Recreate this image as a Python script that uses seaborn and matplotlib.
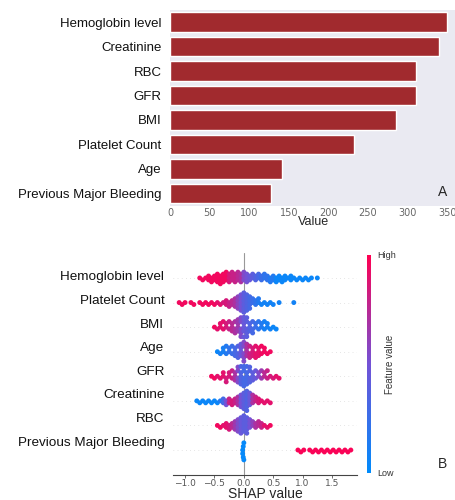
import warnings
import numpy as np
import pandas as pd
import seaborn as sns
import matplotlib.pyplot as plt
from matplotlib.colors import LinearSegmentedColormap, Normalize
from matplotlib.cm import ScalarMappable
from matplotlib.transforms import ScaledTranslation

warnings.filterwarnings("ignore")

# ---- panel A: feature importance
features_a = ["Hemoglobin level", "Creatinine", "RBC", "GFR", "BMI",
              "Platelet Count", "Age", "Previous Major Bleeding"]
importance = [350, 340, 310, 310, 285, 232, 142, 128]

# ---- panel B: SHAP beeswarm, read off as bins
# (first bin centre, bin step, points per bin, feature value per bin 0=low 1=high)
features_b = ["Hemoglobin level", "Platelet Count", "BMI", "Age", "GFR",
              "Creatinine", "RBC", "Previous Major Bleeding"]

hb_counts = [1, 1, 1, 2, 2, 2, 3, 3, 3, 3, 3, 3, 3, 3, 3, 3, 3, 2, 2, 2, 2,
             2, 2, 2, 2, 2, 2, 2, 2, 2, 1, 2, 1, 1, 1, 1, 1, 1, 1, 0, 1]
hb_fval = [0.95, 0.95, 0.95, 0.95, 0.95, 0.95, 0.95, 0.95, 0.95, 0.95,
           0.85, 0.8, 0.8, 0.75, 0.7, 0.55, 0.5, 0.45, 0.4, 0.35,
           0.3, 0.25, 0.2, 0.2, 0.15, 0.15, 0.05, 0.05, 0.05, 0.05,
           0.05, 0.05, 0.05, 0.05, 0.05, 0.05, 0.05, 0.05, 0.05, 0.05, 0.05]

plt_counts = [1, 1, 1, 0, 1, 1, 0, 1, 1, 1, 1, 1, 1, 1, 1, 1, 2, 2, 2, 3,
              4, 5, 6, 5, 4, 2, 2, 2, 1, 1, 1, 1, 1, 0, 1, 0, 0, 0, 0, 1]
plt_fval = [0.95, 0.95, 0.95, 0.95, 0.95, 0.95, 0.95, 0.95, 0.95, 0.95,
            0.95, 0.95, 0.95, 0.9, 0.9, 0.85, 0.85, 0.8, 0.75, 0.7,
            0.6, 0.5, 0.4, 0.35, 0.3, 0.25, 0.2, 0.15, 0.08, 0.08,
            0.08, 0.08, 0.08, 0.08, 0.08, 0.08, 0.08, 0.08, 0.08, 0.08]

bmi_counts = [0, 1, 1, 2, 2, 2, 2, 3, 3, 4, 5, 6, 5, 3, 3, 2, 2, 2, 2, 2, 1, 1, 1, 0]
bmi_fval = [0.95, 0.95, 0.9, 0.9, 0.9, 0.85, 0.8, 0.75, 0.7, 0.65, 0.55, 0.45,
            0.4, 0.35, 0.3, 0.25, 0.2, 0.15, 0.1, 0.1, 0.08, 0.05, 0.05, 0.05]

age_counts = [0, 1, 1, 2, 2, 2, 2, 3, 3, 4, 5, 4, 3, 3, 3, 3, 2, 2, 1, 1]
age_fval = [0.05, 0.05, 0.1, 0.1, 0.15, 0.2, 0.25, 0.3, 0.35, 0.45,
            0.55, 0.7, 0.8, 0.85, 0.9, 0.9, 0.95, 0.95, 0.95, 0.95]

gfr_counts = [1, 1, 1, 1, 2, 2, 2, 2, 3, 4, 5, 6, 5, 4, 3, 2, 2, 2, 2, 2, 1, 1, 1, 1]
gfr_fval = [0.95, 0.95, 0.9, 0.9, 0.9, 0.85, 0.85, 0.8, 0.7, 0.55, 0.35, 0.3,
            0.3, 0.35, 0.4, 0.45, 0.55, 0.65, 0.75, 0.8, 0.85, 0.85, 0.9, 0.9]

cre_counts = [1, 1, 1, 1, 1, 1, 1, 1, 1, 2, 2, 2, 2, 2, 3, 4, 5, 6, 4, 3, 2, 2, 1, 1, 1, 1]
cre_fval = [0.05, 0.05, 0.05, 0.05, 0.05, 0.05, 0.05, 0.05, 0.15, 0.3, 0.5, 0.8, 0.85,
            0.8, 0.7, 0.5, 0.4, 0.35, 0.45, 0.7, 0.8, 0.85, 0.9, 0.9, 0.9, 0.9]

rbc_counts = [1, 1, 1, 2, 2, 2, 3, 4, 5, 5, 5, 3, 2, 2, 2, 2, 1, 1, 1]
rbc_fval = [0.95, 0.95, 0.9, 0.9, 0.85, 0.75, 0.65, 0.55, 0.45, 0.4,
            0.4, 0.5, 0.6, 0.7, 0.75, 0.8, 0.9, 0.9, 0.95]

pmb_low_counts = [2, 2, 2]
pmb_low_fval = [0.02, 0.02, 0.02]
pmb_high_counts = [1, 1, 1, 0, 1, 1, 1, 1, 1, 1, 1, 1, 1, 1, 1, 1, 1, 1, 1]
pmb_high_fval = [0.98] * 19

segments = {
    "Hemoglobin level": [(-0.75, 0.05, hb_counts, hb_fval)],
    "Platelet Count": [(-1.10, 0.05, plt_counts, plt_fval)],
    "BMI": [(-0.55, 0.05, bmi_counts, bmi_fval)],
    "Age": [(-0.50, 0.05, age_counts, age_fval)],
    "GFR": [(-0.55, 0.05, gfr_counts, gfr_fval)],
    "Creatinine": [(-0.80, 0.05, cre_counts, cre_fval)],
    "RBC": [(-0.45, 0.05, rbc_counts, rbc_fval)],
    "Previous Major Bleeding": [(-0.02, 0.01, pmb_low_counts, pmb_low_fval),
                                (0.92, 0.05, pmb_high_counts, pmb_high_fval)],
}

rows = []
for feat in features_b:
    for start, step, counts, fvals in segments[feat]:
        for i, (c, f) in enumerate(zip(counts, fvals)):
            rows += [(feat, round(start + i * step, 3), f)] * c
shap_df = pd.DataFrame(rows, columns=["feature", "shap", "fvalue"])

sns.set_style("dark")
plt.rcParams["font.family"] = ["Liberation Sans", "DejaVu Sans"]

fig = plt.figure(figsize=(4.56, 5.0), dpi=100)

# ---------------- panel A
axA = fig.add_axes([170 / 456, 1 - 205.5 / 500, 286 / 456, 195.5 / 500])
sns.barplot(x=importance, y=features_a, color="#a12a2e", saturation=1, ax=axA)
axA.set_xlim(0, 361)
axA.set_xticks([0, 50, 100, 150, 200, 250, 300, 350])
axA.set_xlabel("Value", fontsize=9, labelpad=-1)
axA.tick_params(axis="y", length=0, labelsize=9.5, pad=6, colors="#111111")
axA.tick_params(axis="x", length=0, labelsize=7, pad=1.5, colors="#666666")
for lab in axA.get_xticklabels():
    lab.set_fontfamily("DejaVu Sans")
for s in axA.spines.values():
    s.set_visible(False)
fig.text(443 / 456, 1 - 192 / 500, "A", fontsize=10, ha="center", va="center")

# ---------------- panel B
shap_cmap = LinearSegmentedColormap.from_list("shap", ["#008bfb", "#7352d6", "#ff0052"])

axB = fig.add_axes([173.3 / 456, 1 - 474.6 / 500, 183.4 / 456, 221.2 / 500])
axB.set_facecolor("white")
for i in range(len(features_b)):
    axB.axhline(i, color="#cccccc", lw=0.5, dashes=(1, 5), zorder=0)
axB.axvline(0, color="#999999", lw=0.8, zorder=0)
sns.swarmplot(data=shap_df, x="shap", y="feature", hue="fvalue", order=features_b,
              palette=shap_cmap, hue_norm=(0, 1), size=2.5, linewidth=0,
              legend=False, ax=axB, zorder=2)
axB.set_xlim(-1.2, 1.92)
axB.set_ylim(8, -1)
axB.set_xticks([-1.0, -0.5, 0.0, 0.5, 1.0, 1.5])
axB.set_xlabel("SHAP value", fontsize=10, labelpad=-1)
axB.set_ylabel("")
axB.grid(False)
for side in ["top", "left", "right"]:
    axB.spines[side].set_visible(False)
axB.spines["bottom"].set_color("#444444")
axB.spines["bottom"].set_linewidth(0.8)
axB.tick_params(axis="y", length=0, labelsize=9.7, pad=6.5, colors="#111111")
axB.tick_params(axis="x", bottom=True, length=2, width=0.6, labelsize=6.5,
                pad=1.5, colors="#555555")
for lab in axB.get_xticklabels():
    lab.set_fontfamily("DejaVu Sans")
# labels in the reference sit slightly above their rows, more so lower down
for i, lab in enumerate(axB.get_yticklabels()):
    lab.set_transform(lab.get_transform()
                      + ScaledTranslation(0, (2 + 1.0 * i) / 100, fig.dpi_scale_trans))

cax = fig.add_axes([366.7 / 456, 1 - 473 / 500, 4 / 456, 218 / 500])
sm = ScalarMappable(norm=Normalize(0, 1), cmap=shap_cmap)
cb = fig.colorbar(sm, cax=cax, ticks=[0, 1])
cb.set_ticklabels(["Low", "High"])
cb.outline.set_visible(False)
cb.ax.tick_params(length=0, labelsize=6.5, pad=5, colors="#333333")
cb.set_label("Feature value", fontsize=7, labelpad=-8, color="#333333")

fig.text(443 / 456, 1 - 464 / 500, "B", fontsize=10, ha="center", va="center")

# let seaborn lay out the swarm once, then freeze it and grow the dots a bit
# so they overlap into solid blobs like the SHAP plot
fig.canvas.draw()
for coll in axB.collections:
    if "draw" in coll.__dict__:
        del coll.draw
        coll.set_sizes(coll.get_sizes() * 2.0)

fig.savefig("out.png", dpi=100)
